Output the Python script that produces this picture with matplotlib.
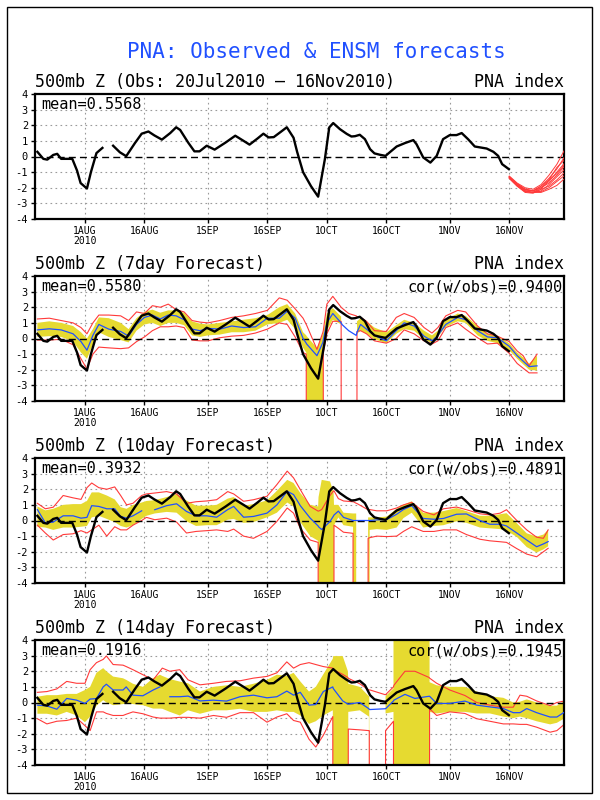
import numpy as np
import matplotlib
matplotlib.use("Agg")
import matplotlib.pyplot as plt

nan = np.nan
M = -99.0   # undefined members fall off the bottom of the plot in the original
T = 99.0    # ... and off the top for the spread

plt.rcParams["font.family"] = "DejaVu Sans Mono"

# x axis is days since 20 Jul 2010
tick_days = [12, 27, 43, 58, 73, 88, 104, 119]
tick_labels = ["1AUG\n2010", "16AUG", "1SEP", "16SEP", "1OCT", "16OCT", "1NOV", "16NOV"]

panel_titles = ["500mb Z (Obs: 20Jul2010 \u2013 16Nov2010)", "500mb Z (7day Forecast)",
                "500mb Z (10day Forecast)", "500mb Z (14day Forecast)"]
means = ["0.5568", "0.5580", "0.3932", "0.1916"]
cors = [None, "0.9400", "0.4891", "0.1945"]

# observed PNA index
obs_day = [0, 1.5, 2.5, 4, 5, 6, 8.8, 10, 10.9, 12.5, 13.5, 14.9, 16.4, 17.5, 19.1, 20.8,
           22.4, 24.6, 26.3, 28, 29.5, 31.4, 33.5, 35, 36, 38, 39.6, 40.9, 42.7, 44.7, 47.5,
           49.9, 52, 53.5, 55.5, 57, 58.3, 59.6, 61.5, 62.9, 64.6, 65.5, 67, 69, 70.8, 72.5,
           73.6, 74.6, 76.3, 78, 79.2, 80.1, 81.3, 82.6, 83.9, 85, 86.4, 87.8, 89, 90.6, 92.7,
           94.8, 95.6, 97.3, 99.1, 100.7, 102.3, 104, 105.7, 107, 108.6, 110.3, 113.3, 115,
           116.2, 117.2, 118.9]
obs_val = [0.3, -0.15, -0.2, 0.1, 0.17, -0.15, -0.15, -0.9, -1.7, -2.05, -1.0, 0.22, 0.55, nan,
           0.69, 0.27, 0.02, 0.86, 1.46, 1.6, 1.35, 1.08, 1.5, 1.87, 1.7, 0.9, 0.33, 0.33, 0.69,
           0.44, 0.9, 1.33, 1.0, 0.76, 1.15, 1.46, 1.22, 1.24, 1.6, 1.87, 1.2, 0.3, -1.0, -1.9,
           -2.57, -0.17, 1.86, 2.14, 1.75, 1.45, 1.28, 1.3, 1.39, 1.11, 0.47, 0.2, 0.11, 0.04,
           0.3, 0.64, 0.86, 1.05, 0.79, -0.06, -0.39, 0.04, 1.11, 1.37, 1.37, 1.5, 1.11, 0.64,
           0.51, 0.3, 0.04, -0.49, -0.81]

# ensemble forecast members after 16 Nov (top panel)
ens_day = [119, 121, 123, 125, 127, 129, 131, 133]
ens_members = [
    [-1.25, -1.7, -2.0, -2.1, -1.8, -1.2, -0.5, 0.45],
    [-1.3, -1.75, -2.1, -2.2, -1.9, -1.4, -0.8, 0.0],
    [-1.3, -1.8, -2.15, -2.2, -2.0, -1.6, -1.0, -0.4],
    [-1.35, -1.8, -2.2, -2.3, -2.1, -1.5, -0.7, -0.2],
    [-1.35, -1.85, -2.2, -2.3, -2.2, -1.8, -1.3, -0.8],
    [-1.4, -1.9, -2.25, -2.3, -2.0, -1.7, -1.2, -0.6],
    [-1.3, -1.8, -2.1, -2.2, -2.25, -2.0, -1.6, -1.2],
    [-1.4, -1.9, -2.3, -2.35, -2.1, -1.9, -1.5, -1.0],
    [-1.3, -1.75, -2.1, -2.2, -1.9, -1.5, -1.1, -0.5],
    [-1.35, -1.85, -2.25, -2.3, -2.3, -2.1, -1.85, -1.4],
]

# 7 day forecast: ensemble mean, spread (lo/hi), member min/max
f7_day = [0, 3, 6, 9, 11, 12.5, 14, 15.5, 18, 21, 23, 25, 27, 29, 31, 33, 35, 37, 39, 41, 43,
          46, 49, 52, 55, 58, 61, 63, 65, 67, 67.8, 67.9, 70.5, 72.0, 72.1, 73, 74.5, 76.6,
          76.8, 78.5, 80.4, 80.6, 81.5, 83, 85, 88, 90.5, 92.5, 95, 97.5, 99.5, 101, 103, 106,
          108, 111, 113.5, 116, 119, 121, 122.5, 124, 126]
f7_mean = [0.55, 0.62, 0.55, 0.3, -0.2, -0.75, 0.2, 0.9, 0.6, 0.45, 0.15, 0.9, 1.35, 1.5, 1.25,
           1.5, 1.45, 1.2, 0.6, 0.5, 0.65, 0.6, 0.8, 0.7, 0.75, 1.3, 1.3, 1.75, 1.3, 0.0, -0.3,
           -0.35, -1.1, -0.25, -0.1, 1.0, 1.6, 1.0, 0.9, 0.5, 0.2, 0.4, 0.9, 0.6, 0.2, -0.15, 0.5,
           1.0, 0.8, 0.15, -0.15, 0.2, 0.9, 1.35, 1.2, 0.5, 0.1, 0.05, -0.5, -1.1, -1.45, -1.8,
           -1.75]
f7_lo = [0.1, 0.15, 0.1, -0.2, -0.9, -1.3, -0.4, 0.4, 0.1, -0.1, -0.25, 0.5, 0.9, 1.0, 0.8, 1.0,
         1.0, 0.85, 0.2, 0.1, 0.2, 0.25, 0.4, 0.4, 0.5, 0.9, 1.0, 1.2, 0.6, -0.6, -0.9, M, M, M,
         -0.6, 0.5, 1.2, 0.9, nan, nan, nan, 0.3, 0.5, 0.3, -0.05, -0.3, 0.3, 0.6, 0.5, -0.05,
         -0.3, 0.1, 0.75, 1.1, 1.0, 0.2, -0.15, -0.3, -0.75, -1.3, -1.65, -2.0, -2.05]
f7_hi = [1.0, 1.1, 1.0, 0.8, 0.4, 0.0, 0.6, 1.35, 1.3, 1.0, 0.6, 1.3, 1.7, 1.85, 1.65, 1.8, 1.8,
         1.65, 1.1, 0.95, 0.9, 1.0, 1.1, 1.2, 1.3, 1.5, 2.0, 2.2, 1.6, 0.4, 0.2, 0.15, -0.6, 0.3,
         0.4, 1.6, 1.95, 1.4, nan, nan, nan, 1.1, 1.3, 1.1, 0.7, 0.4, 0.85, 1.2, 1.0, 0.5, 0.2,
         0.5, 1.2, 1.6, 1.45, 0.8, 0.3, 0.15, -0.3, -0.9, -1.2, -1.6, -1.1]
f7_min = [-0.1, -0.1, -0.05, -0.4, -1.3, -1.95, -1.0, -0.55, -0.6, -0.65, -0.6, -0.2, 0.1, 0.5,
          0.75, 0.75, 0.8, 0.7, -0.1, -0.15, -0.15, 0.05, 0.15, 0.2, 0.35, 0.6, 1.0, 0.9, 0.1,
          -0.9, -1.0, M, M, M, -0.9, 0.3, 1.1, 1.1, M, M, M, 0.45, 0.5, 0.3, -0.15, -0.3, 0.0,
          0.55, 0.3, -0.15, -0.35, -0.15, 0.7, 1.0, 0.6, 0.05, -0.35, -0.3, -0.95, -1.6, -1.9,
          -2.2, -2.2]
f7_max = [1.25, 1.3, 1.15, 1.0, 0.7, 0.3, 1.0, 1.5, 1.5, 1.45, 1.15, 1.7, 1.6, 2.1, 2.0, 2.2,
          1.85, 1.7, 1.15, 1.05, 1.0, 1.15, 1.35, 1.45, 1.6, 1.8, 2.6, 2.45, 1.9, 1.3, 0.9, 0.85,
          -0.7, 0.4, 0.5, 2.2, 2.7, 2.0, 1.95, 1.6, 1.45, 1.4, 1.35, 1.1, 0.5, 0.45, 1.35, 1.6,
          1.35, 0.7, 0.35, 0.7, 1.45, 1.8, 1.7, 0.8, 0.3, 0.15, -0.2, -0.8, -1.1, -1.75, -1.0]

# 10 day forecast
f10_day = [0, 2, 4, 6.5, 9, 11, 12.5, 13.7, 15.5, 17.5, 19.5, 21, 22.5, 24.1, 26.3, 27.5, 29.6,
           32.6, 35.1, 37.6, 40, 42.7, 45.2, 48, 49.5, 52, 54.5, 57.9, 60.4, 63, 64.6, 66.3,
           68.8, 70.8, 70.9, 71.7, 73.8, 74.7, 74.8, 75.9, 77.2, 79.6, 79.7, 80.4, 80.5, 83.3,
           83.4, 83.8, 85.6, 88.1, 90.6, 92.3, 94.4, 97.3, 100, 102.4, 105.7, 108.2, 111.6,
           114.1, 116.7, 118.3, 120.9, 123.4, 125.9, 127.6, 128.8]
f10_mean = [0.7, -0.15, -0.1, 0.3, 0.3, 0.15, 0.2, 0.95, 0.9, 0.75, 0.75, 0.26, 0.15, 0.3, 0.62,
            nan, 0.69, 0.95, 1.07, 0.58, 0.3, 0.3, 0.21, 0.7, 0.9, 0.21, 0.26, 0.47, 1.0, 1.87,
            1.66, 0.95, 0.15, -0.35, -0.4, -0.58, -0.06, 0.3, 0.35, 0.6, 0.2, 0.0, 0.0, 0.0, 0.0,
            0.0, 0.0, 0.0, 0.04, 0.06, 0.4, 0.7, 0.95, 0.13, 0.08, 0.13, 0.4, 0.42, 0.0, -0.24,
            -0.24, -0.35, -0.8, -1.25, -1.68, -1.5, -1.35]
f10_lo = [-0.4, -0.45, -0.6, -0.45, -0.45, -0.4, -0.35, 0.2, 0.3, 0.1, -0.1, -0.35, -0.45,
          -0.3, 0.1, 0.3, 0.45, 0.55, 0.5, -0.05, -0.35, -0.3, -0.3, 0.05, 0.1, -0.15, -0.1, 0.2,
          0.5, 1.15, 0.9, -0.1, -1.0, -1.3, M, M, M, M, -0.3, 0.2, -0.3, -0.4, M, M, nan, nan,
          M, -0.6, -0.55, -0.6, -0.45, 0.15, 0.5, -0.45, -0.35, -0.3, -0.05, -0.15, -0.45, -0.5,
          -0.55, -0.65, -1.05, -1.7, -2.05, -1.85, -1.65]
f10_hi = [0.9, 0.65, 0.75, 1.0, 1.05, 1.05, 1.25, 1.8, 1.8, 1.6, 1.35, 0.85, 0.75, 1.0, 1.15,
          1.25, 1.3, 1.5, 1.7, 1.28, 0.95, 0.95, 1.0, 1.4, 1.5, 0.95, 1.05, 1.28, 1.9, 2.6, 2.4,
          1.76, 1.0, 0.9, 1.5, 2.6, 2.5, 1.8, 1.0, 1.0, 0.5, 0.45, 0.45, 0.45, nan, nan, 0.2,
          0.2, 0.2, 0.25, 0.75, 1.0, 1.23, 0.5, 0.5, 0.6, 0.8, 0.6, 0.3, 0.3, 0.4, 0.47, -0.17,
          -0.82, -1.03, -0.9, -0.6]
f10_min = [-0.3, -0.8, -1.25, -0.9, -0.85, -0.65, -0.8, -0.6, -0.3, -1.0, -0.4, -0.6, -0.6,
           -0.3, 0.0, 0.2, 0.05, 0.15, -0.1, -0.8, -0.7, -0.65, -0.6, -0.7, -0.55, -1.0, -1.14,
           -0.7, -0.06, 0.8, 0.47, -0.5, -1.25, -1.4, M, M, M, M, -0.3, -0.5, -0.75, -0.82, M,
           M, M, M, -1.14, -1.1, -1.0, -1.03, -1.0, -0.7, -0.4, -0.7, -0.7, -0.6, -0.6, -0.9,
           -1.2, -1.3, -1.36, -1.4, -1.8, -2.15, -2.32, -2.0, -1.78]
f10_max = [1.1, 0.75, 0.85, 1.6, 1.45, 1.35, 2.1, 2.4, 2.1, 2.0, 2.15, 1.6, 1.0, 1.1, 1.6, 1.7,
           1.76, 1.85, 1.7, 1.1, 1.2, 1.25, 1.33, 1.85, 1.7, 1.23, 1.33, 1.55, 2.3, 3.16, 2.73,
           1.98, 0.9, 0.6, 0.6, 0.7, 1.6, 1.9, 1.9, 1.4, 1.25, 1.2, 1.2, 1.1, 1.1, 0.7, 0.7, 0.7,
           0.62, 0.62, 0.8, 1.0, 1.16, 0.58, 0.36, 0.75, 0.86, 0.69, 0.43, 0.36, 0.47, 0.69, 0.0,
           -0.6, -1.07, -1.14, -0.6]

# 14 day forecast
f14_day = [0, 2.4, 4.9, 7.4, 9.9, 12, 13.3, 14.9, 16.6, 17.4, 19.1, 21.6, 22.4, 24.1, 26.6,
           29.2, 30.9, 31.5, 33.4, 35.9, 38, 41, 44.4, 47.7, 51.1, 54.5, 57.9, 60.4, 62.9, 64.6,
           66.3, 68.5, 70.2, 72.1, 74.5, 74.6, 77, 78.3, 78.4, 81.3, 83.6, 83.7, 83.9, 87.7,
           87.8, 89.8, 89.9, 92.7, 95.2, 98.8, 98.9, 100.7, 104, 107.8, 110.8, 114.1, 117.5,
           120, 121.7, 123.4, 125.9, 129.3, 131, 133]
f14_mean = [-0.17, -0.22, -0.43, 0.26, 0.15, -0.06, 0.22, 0.25, 1.0, 1.17, 0.8, 0.8, 1.0, 0.47,
            0.43, 0.8, 1.0, nan, 0.37, 0.37, 0.41, 0.1, 0.15, 0.09, 0.37, 0.47, 0.3, 0.37, 0.73,
            0.47, 0.65, -0.17, -0.13, 0.7, 1.0, 0.9, 0.1, -0.1, -0.1, 0.0, -0.4, -0.45, -0.45,
            -0.4, -0.4, 0.1, 0.15, 0.52, 0.26, 0.4, 0.4, -0.06, -0.06, 0.09, -0.17, -0.28, -0.39,
            -0.65, -0.65, -0.39, -0.65, -0.93, -0.93, -0.6]
f14_lo = [-0.72, -0.72, -0.83, -0.6, -0.83, -1.26, -0.9, -0.2, 0.15, 0.0, -0.17, -0.1, -0.06,
          -0.1, -0.17, -0.39, -0.39, -0.4, -0.6, -0.83, -0.5, -0.72, -0.5, -0.5, -0.4, -0.6,
          -0.6, -0.5, -0.6, -0.6, -0.83, -1.37, -1.2, -0.83, -0.5, M, M, M, -0.6, -0.5, -0.9, M,
          nan, nan, -0.7, -0.6, M, M, M, M, -0.6, -0.7, -0.6, -0.6, -0.7, -0.7, -0.9, -1.0,
          -0.9, -1.0, -1.2, -1.4, -1.3, -1.0]
f14_hi = [0.37, 0.47, 0.47, 0.55, 0.55, 0.8, 1.0, 1.9, 2.2, 2.0, 1.66, 1.55, 1.45, 1.2, 1.0,
          1.56, 1.78, 1.7, 1.5, 1.34, 1.23, 0.7, 1.0, 1.1, 1.0, 1.2, 1.45, 1.78, 1.7, 1.9, 1.35,
          0.7, 1.0, 1.8, 2.8, 2.97, 2.97, 2.0, 1.2, 1.0, 0.4, 0.4, nan, nan, 0.4, 0.9, T, T, T,
          T, 1.3, 1.1, 1.0, 1.0, 0.7, 0.4, 0.3, 0.0, 0.05, 0.2, 0.0, -0.2, -0.2, 0.1]
f14_min = [-1.04, -1.37, -1.2, -1.15, -1.0, -1.48, -1.8, -0.6, -0.6, -0.7, -0.83, -0.83, -0.75,
           -0.6, -0.72, -0.93, -1.0, -1.0, -1.0, -0.95, -0.95, -1.0, -0.83, -0.95, -0.65,
           -0.65, -1.26, -0.93, -0.72, -1.15, -1.26, -2.35, -2.85, -2.1, -0.9, M, M, M, -1.7,
           -1.75, -1.8, -1.8, M, M, -1.8, -1.2, M, M, M, M, -0.4, -0.83, -0.6, -0.7, -1.04,
           -1.2, -1.37, -1.37, -1.4, -1.4, -1.58, -1.9, -1.8, -1.37]
f14_max = [0.65, 0.7, 0.87, 1.35, 1.23, 1.23, 2.1, 2.55, 2.76, 2.98, 2.43, 2.39, 2.3, 2.1, 1.78,
           1.45, 2.0, 2.2, 2.0, 2.1, 1.45, 1.13, 1.23, 1.35, 1.39, 1.56, 1.67, 1.9, 2.6, 2.2,
           2.43, 2.55, 2.43, 2.3, 2.2, 2.1, 1.8, 1.6, 1.55, 1.2, 0.8, 0.8, 0.8, 0.5, 0.5, 1.0,
           1.1, 2.0, 2.0, 1.6, 1.56, 1.23, 0.8, 0.45, 0.0, -0.17, -0.3, -0.3, 0.47, 0.4, 0.1,
           -0.2, 0.0, 0.1]

forecasts = [
    (f7_day, f7_mean, f7_lo, f7_hi, f7_min, f7_max),
    (f10_day, f10_mean, f10_lo, f10_hi, f10_min, f10_max),
    (f14_day, f14_mean, f14_lo, f14_hi, f14_min, f14_max),
]

YELLOW = "#e6da30"
RED = "#ff3a3a"
BLUE = "#2050ff"
GRID = "#9a9a9a"


def style_axes(ax, title, mean, cor):
    ax.set_xlim(-0.6, 132.8)
    ax.set_ylim(-4, 4)
    ax.set_yticks(range(-4, 5))
    ax.set_yticklabels([str(v) for v in range(-4, 5)], fontsize=7.5)
    ax.set_xticks(tick_days)
    ax.set_xticklabels(tick_labels, fontsize=7, linespacing=0.95)
    ax.tick_params(direction="out", length=3, width=1, pad=2)
    for s in ax.spines.values():
        s.set_linewidth(1.6)
    for v in [-3, -2, -1, 1, 2, 3]:
        ax.axhline(v, color=GRID, lw=0.8, ls=(0, (1.5, 3)), zorder=0)
    for d in tick_days:
        ax.axvline(d, color=GRID, lw=0.8, ls=(0, (1.5, 3)), zorder=0)
    ax.axhline(0, color="k", lw=1.0, ls=(0, (5, 3)), zorder=3)
    ax.text(0, 1.025, title, transform=ax.transAxes, fontsize=12, ha="left", va="bottom")
    ax.text(1, 1.025, "PNA index", transform=ax.transAxes, fontsize=12, ha="right", va="bottom")
    ax.text(0.012, 0.975, "mean=" + mean, transform=ax.transAxes, fontsize=11,
            ha="left", va="top", zorder=6)
    if cor:
        ax.text(0.998, 0.975, "cor(w/obs)=" + cor, transform=ax.transAxes, fontsize=11,
                ha="right", va="top", zorder=6)


fig = plt.figure(figsize=(6, 8), dpi=100)
fig.text(0.527, 0.935, "PNA: Observed & ENSM forecasts", color=BLUE, fontsize=15,
         ha="center", va="center")
fig.add_artist(plt.Rectangle((7 / 600, 7 / 800), 585 / 600, 786 / 800,
                             transform=fig.transFigure, fill=False, lw=1, color="k"))

bottoms = [219, 401, 583, 765]
for i, b in enumerate(bottoms):
    ax = fig.add_axes([35 / 600, 1 - b / 800, 529 / 600, 125 / 800])
    style_axes(ax, panel_titles[i], means[i], cors[i])
    if i == 0:
        for m in ens_members:
            ax.plot(ens_day, m, color=RED, lw=0.7, zorder=4)
    else:
        day, mn, lo, hi, fmin, fmax = forecasts[i - 1]
        ax.fill_between(day, lo, hi, color=YELLOW, lw=0, zorder=1)
        ax.plot(day, fmin, color=RED, lw=0.8, zorder=2)
        ax.plot(day, fmax, color=RED, lw=0.8, zorder=2)
        ax.plot(day, mn, color=BLUE, lw=0.9, zorder=4)
    ax.plot(obs_day, obs_val, color="k", lw=1.7, zorder=5)

fig.savefig("out.png", dpi=100)
